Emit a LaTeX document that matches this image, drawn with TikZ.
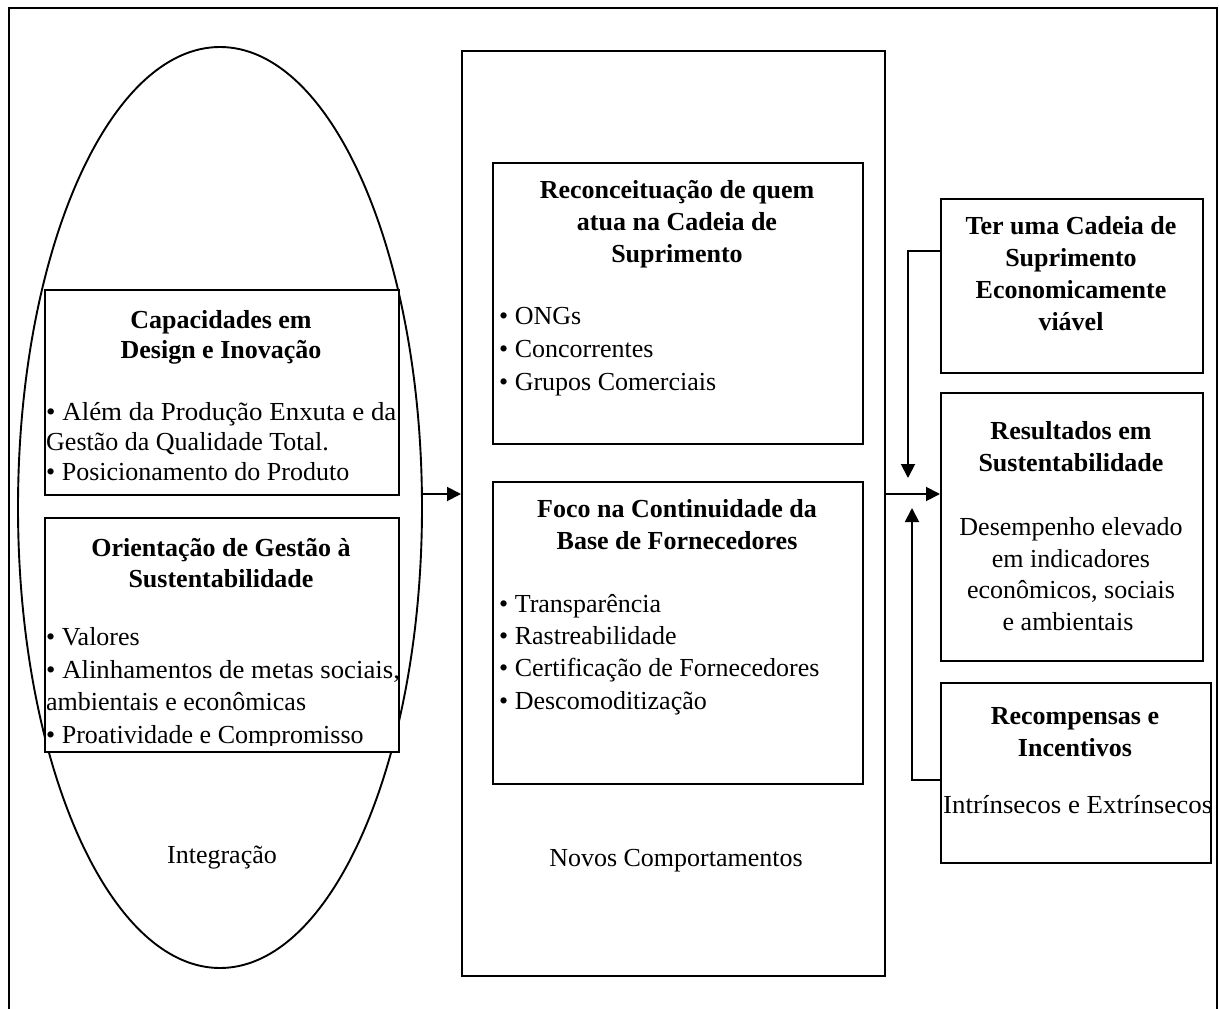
\documentclass[tikz,border=0pt]{standalone}
\usepackage{fontspec}
\usepackage{graphicx}
\setmainfont{Liberation Serif}
\usetikzlibrary{arrows.meta,shapes.geometric}

\begin{document}
\begin{tikzpicture}[x=1pt,y=-1pt,
  box/.style={draw,line width=1.9pt,inner sep=0pt,anchor=north west},
  txt/.style={anchor=base,inner sep=0pt,font=\fontsize{26}{31}\selectfont},
  hd/.style={txt,font=\fontsize{26}{31}\selectfont\bfseries},
  lt/.style={txt,anchor=base west},
  arr/.style={line width=1.9pt,-{Triangle[length=14pt,width=14pt]}}]

\useasboundingbox (0,0) rectangle (1219,1009);

% outer frame (runs past the lower edge)
\draw[line width=1.9pt] (9,1030) -- (9,8) -- (1217,8) -- (1217,1030);

% integration ellipse
\node[draw,ellipse,line width=1.9pt,inner sep=0pt,minimum width=404pt,minimum height=921pt] (integ) at (220,507.5) {};

% left boxes
\node[box,fill=white,minimum width=354pt,minimum height=205pt] (cap) at (44,289) {};
\node[box,fill=white,minimum width=354pt,minimum height=234pt] (ori) at (44,517) {};

% middle column
\node[box,minimum width=423pt,minimum height=925pt] (mid) at (461,50) {};
\node[box,minimum width=370pt,minimum height=281pt] (rec) at (492,162) {};
\node[box,minimum width=370pt,minimum height=302pt] (foco) at (492,481) {};

% right column
\node[box,minimum width=262pt,minimum height=174pt] (ter) at (940,198) {};
\node[box,minimum width=262pt,minimum height=268pt] (res) at (940,392) {};
\node[box,minimum width=270pt,minimum height=180pt] (rcp) at (940,682) {};

% connectors
\coordinate (a1) at (422,494);
\coordinate (a2) at (900,494);
\coordinate (tipD) at (908,478);
\coordinate (tipU) at (912,508);
\draw[arr] (a1) -- (mid.west |- a1);
\draw[arr] (mid.east |- a2) -- (res.west |- a2);
\draw[arr] (ter.north west) ++(0,53) -| (tipD);
\draw[arr] (rcp.north west) ++(0,98) -| (tipU);

% texts: capacities
\node[hd] (c1) at (221,328) {Capacidades em};
\node[hd] (c2) at (221,358) {Design e Inovação};
\node[lt] (c3) at (46,420) {\scalebox{1.035}[1]{• Além da Produção Enxuta e da}};
\node[lt] (c4) at (46,450) {Gestão da Qualidade Total.};
\node[lt] (c5) at (46,480) {• Posicionamento do Produto};

% texts: management orientation
\node[hd] (o1) at (221,556) {Orientação de Gestão à};
\node[hd] (o2) at (221,587) {Sustentabilidade};
\node[lt] (o3) at (46,645) {• Valores};
\node[lt] (o4) at (46,678) {\scalebox{1.03}[1]{• Alinhamentos de metas sociais,}};
\node[lt] (o5) at (46,710) {ambientais e econômicas};
\begin{scope}
  \clip (44,517) rectangle (398,745);
  \node[lt] (o6) at (46,743) {• Proatividade e Compromisso};
\end{scope}
\node[txt] (i1) at (222,863) {Integração};

% texts: supply chain reconception
\node[hd] (r1) at (677,198) {Reconceituação de quem};
\node[hd] (r2) at (677,230) {atua na Cadeia de};
\node[hd] (r3) at (677,262) {Suprimento};
\node[lt] (r4) at (499,324) {• ONGs};
\node[lt] (r5) at (499,357) {• Concorrentes};
\node[lt] (r6) at (499,390) {• Grupos Comerciais};

% texts: supplier base
\node[hd] (f1) at (677,517) {Foco na Continuidade da};
\node[hd] (f2) at (677,549) {Base de Fornecedores};
\node[lt] (f3) at (499,612) {• Transparência};
\node[lt] (f4) at (499,644) {• Rastreabilidade};
\node[lt] (f5) at (499,676) {• Certificação de Fornecedores};
\node[lt] (f6) at (499,709) {• Descomoditização};
\node[txt] (n1) at (676,866) {Novos Comportamentos};

% texts: right column
\node[hd] (e1) at (1071,234) {Ter uma Cadeia de};
\node[hd] (e2) at (1071,266) {Suprimento};
\node[hd] (e3) at (1071,298) {Economicamente};
\node[hd] (e4) at (1071,330) {viável};

\node[hd] (s1) at (1071,439) {Resultados em};
\node[hd] (s2) at (1071,471) {Sustentabilidade};
\node[txt] (s3) at (1071,535) {Desempenho elevado};
\node[txt] (s4) at (1071,567) {em indicadores};
\node[txt] (s5) at (1071,598) {econômicos, sociais};
\node[txt] (s6) at (1068,630) {e ambientais};

\node[hd] (k1) at (1075,724) {Recompensas e};
\node[hd] (k2) at (1075,756) {Incentivos};
\begin{scope}
  \clip (940,682) rectangle (1209,862);
  \node[lt] (k3) at (943,813) {\scalebox{1.035}[1]{Intrínsecos e Extrínsecos}};
\end{scope}
\end{tikzpicture}
\end{document}
